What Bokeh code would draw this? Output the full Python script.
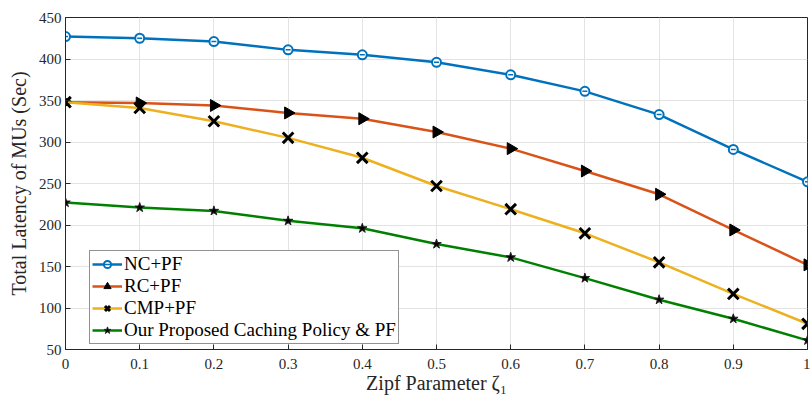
import numpy as np
from bokeh.plotting import figure
from bokeh.models import FixedTicker, Legend, LegendItem
from bokeh.embed import file_html
from bokeh.resources import INLINE

zipf = [0.0, 0.1, 0.2, 0.3, 0.4, 0.5, 0.6, 0.7, 0.8, 0.9, 1.0]
nc_pf = [427, 425, 421, 411, 405, 396, 381, 361, 333, 291, 252]
rc_pf = [348, 347, 344, 335, 328, 312, 292, 265, 237, 194, 152]
cmp_pf = [348, 341, 325, 305, 281, 247, 219, 190, 155, 117, 81]
ours_pf = [227, 221, 217, 205, 196, 177, 161, 136, 110, 87, 61]
x_ticks = [0, 0.1, 0.2, 0.3, 0.4, 0.5, 0.6, 0.7, 0.8, 0.9, 1]
x_tick_labels = ["0", "0.1", "0.2", "0.3", "0.4", "0.5", "0.6", "0.7", "0.8", "0.9", "1"]
y_ticks = [50, 100, 150, 200, 250, 300, 350, 400, 450]

FONT = "Liberation Serif"

p = figure(width=810, height=402, output_backend="svg", toolbar_location=None,
           x_range=(0, 1), y_range=(50, 450),
           min_border_left=65, min_border_right=3, min_border_top=17, min_border_bottom=53)

p.outline_line_color = "#262626"
p.outline_line_width = 1
p.background_fill_color = "white"
p.border_fill_color = "white"

for ax in (p.xaxis[0], p.yaxis[0]):
    ax.major_label_text_font = FONT
    ax.major_label_text_font_size = "15px"
    ax.major_label_text_color = "#262626"
    ax.axis_label_text_font = FONT
    ax.axis_label_text_font_size = "20px"
    ax.axis_label_text_font_style = "normal"
    ax.axis_label_text_color = "#262626"
    ax.axis_line_color = "#262626"
    ax.major_tick_line_color = "#262626"
    ax.major_tick_in = 5
    ax.major_tick_out = 0
    ax.minor_tick_line_color = None

p.xaxis.ticker = FixedTicker(ticks=x_ticks)
p.xaxis.major_label_overrides = {t: l for t, l in zip(x_ticks, x_tick_labels)}
p.yaxis.ticker = FixedTicker(ticks=y_ticks)
p.xaxis.axis_label = "Zipf Parameter ζ\u2081"
p.yaxis.axis_label = "Total Latency of MUs (Sec)"
p.xaxis.major_label_standoff = 9
p.yaxis.major_label_standoff = 4
p.xaxis.axis_label_standoff = 0
p.yaxis.axis_label_standoff = 6

p.grid.grid_line_color = "#e3e3e3"
p.grid.grid_line_width = 1

lw = 2.5
l1 = p.line(zipf, nc_pf, line_color="#0072BD", line_width=lw)
m1 = p.scatter(zipf, nc_pf, marker="circle", size=9, line_color="#0072BD",
               line_width=2, fill_color="white")
m1b = p.scatter(zipf, nc_pf, marker="dash", size=5, line_color="#0072BD", line_width=1.5)

l2 = p.line(zipf, rc_pf, line_color="#D95319", line_width=lw)
m2 = p.scatter(zipf, rc_pf, marker="triangle", size=12, angle=-np.pi / 2,
               line_color="black", fill_color="black")

l3 = p.line(zipf, cmp_pf, line_color="#EDB120", line_width=lw)
m3 = p.scatter(zipf, cmp_pf, marker="x", size=15, line_color="black", line_width=3)

l4 = p.line(zipf, ours_pf, line_color="#008000", line_width=lw)
m4 = p.scatter(zipf, ours_pf, marker="star", size=10, line_color="#222222",
               fill_color="black")

legend = Legend(items=[
    LegendItem(label="NC+PF", renderers=[l1, m1, m1b]),
    LegendItem(label="RC+PF", renderers=[l2, m2]),
    LegendItem(label="CMP+PF", renderers=[l3, m3]),
    LegendItem(label="Our Proposed Caching Policy & PF", renderers=[l4, m4]),
], location=(24, 5))
legend.label_text_font = FONT
legend.label_text_font_size = "19px"
legend.label_text_line_height = 1.0
legend.label_text_color = "black"
legend.label_standoff = 2
legend.glyph_width = 30
legend.glyph_height = 18
legend.label_height = 18
legend.spacing = 0
legend.padding = 2
legend.margin = 0
legend.border_line_color = "#262626"
legend.border_line_width = 1
legend.background_fill_alpha = 1
p.add_layout(legend, "center")

open("out.html", "w").write(file_html(p, INLINE))
